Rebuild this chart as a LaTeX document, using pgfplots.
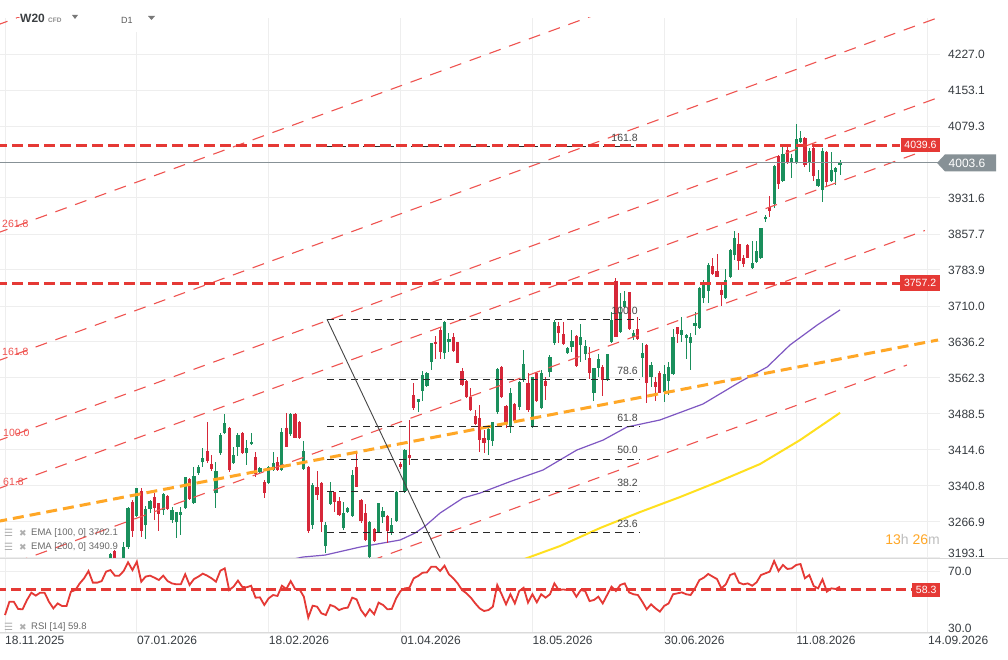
\documentclass[border=0pt]{standalone}
\usepackage{fontspec}
\setmainfont{Liberation Sans}
\newfontfamily\dejavu{DejaVu Sans}
\usepackage{pgfplots}
\usepackage{pgfplotstable}
\pgfplotsset{compat=1.18}

\definecolor{cgreen}{RGB}{26,143,92}
\definecolor{cred}{RGB}{214,39,57}
\definecolor{lred}{RGB}{229,57,53}
\definecolor{tred}{RGB}{239,83,80}
\definecolor{corange}{RGB}{255,167,38}
\definecolor{cpurple}{RGB}{126,87,194}
\definecolor{cyellow}{RGB}{255,224,30}
\definecolor{cgrid}{RGB}{238,238,238}
\definecolor{cline}{RGB}{135,145,150}
\definecolor{ctick}{RGB}{55,60,65}
\definecolor{cfib}{RGB}{40,40,40}
\definecolor{cfibtxt}{RGB}{70,70,70}
\definecolor{clab}{RGB}{105,105,105}
\definecolor{cicon}{RGB}{175,175,175}
\definecolor{csep}{RGB}{218,218,218}
\definecolor{chead}{RGB}{60,64,67}
\definecolor{ccfd}{RGB}{140,140,140}
\definecolor{ctri}{RGB}{120,120,120}
\definecolor{cd1}{RGB}{90,90,90}
\definecolor{chm}{RGB}{190,190,190}

\pgfplotstableread{
i O H L C
24 3193.5 3203.0 3193.5 3201.1
27 3193.5 3226.4 3193.5 3216.2
28 3216.2 3298.2 3210.7 3294.8
30 3279.8 3337.0 3278.0 3335.9
32 3260.6 3299.6 3231.2 3293.5
33 3293.5 3311.9 3284.6 3309.9
36 3291.4 3325.6 3281.1 3324.2
38 3270.9 3298.2 3264.1 3291.4
39 3266.1 3288.0 3233.3 3286.6
40 3281.8 3298.2 3240.1 3287.3
41 3294.8 3359.8 3294.0 3358.4
43 3305.1 3380.3 3303.7 3361.2
44 3368.0 3383.7 3363.2 3379.0
45 3389.2 3417.9 3380.3 3397.4
48 3325.6 3390.6 3294.8 3371.4
49 3407.7 3448.7 3404.2 3445.3
50 3450.1 3487.7 3448.7 3469.2
52 3387.2 3421.3 3385.8 3404.2
53 3421.3 3450.1 3402.2 3445.3
55 3407.7 3435.0 3383.7 3418.0
56 3426.1 3448.7 3424.8 3430.2
58 3370.1 3380.3 3366.7 3376.9
60 3347.5 3381.7 3346.1 3380.3
61 3373.5 3411.1 3372.1 3387.2
63 3373.5 3459.0 3372.1 3450.8
65 3446.7 3489.7 3443.2 3487.7
68 3375.5 3433.0 3373.5 3412.4
70 3260.6 3346.1 3251.7 3342.7
73 3217.5 3267.5 3202.5 3260.6
74 3303.7 3348.9 3301.7 3327.7
77 3253.8 3308.5 3250.4 3284.6
78 3288.0 3298.2 3284.6 3294.8
79 3279.8 3373.5 3279.0 3363.2
83 3194.3 3268.5 3193.5 3267.5
85 3245.6 3306.0 3243.5 3305.1
86 3276.4 3296.9 3264.1 3289.4
88 3245.6 3274.3 3240.0 3260.6
89 3269.5 3330.4 3269.0 3327.7
91 3331.1 3416.6 3327.0 3414.5
94 3513.7 3520.0 3491.8 3519.2
95 3536.3 3576.6 3515.7 3568.4
96 3546.5 3575.0 3545.0 3571.8
97 3595.8 3634.0 3578.7 3633.4
100 3612.9 3679.9 3601.3 3676.5
101 3635.4 3653.9 3616.3 3642.3
110 3435.0 3465.7 3404.2 3456.8
111 3433.6 3472.6 3423.3 3471.2
112 3491.7 3583.0 3489.0 3580.6
115 3462.3 3541.0 3448.6 3530.7
117 3503.4 3556.0 3496.5 3553.3
118 3558.1 3619.6 3555.0 3590.2
120 3461.0 3565.0 3460.0 3563.6
122 3501.3 3578.6 3500.0 3573.1
124 3573.8 3609.4 3563.6 3604.6
125 3634.7 3681.2 3629.9 3677.8
128 3612.8 3626.5 3611.4 3624.4
129 3626.5 3660.7 3616.2 3638.1
131 3629.9 3672.3 3595.7 3647.0
132 3611.4 3640.2 3599.1 3628.5
134 3532.1 3583.0 3515.0 3582.0
135 3583.4 3611.4 3564.9 3600.5
137 3558.1 3612.5 3557.0 3611.4
138 3636.7 3698.3 3636.0 3681.2
140 3657.3 3735.9 3653.8 3698.3
141 3707.2 3741.4 3706.0 3720.9
143 3647.0 3660.7 3640.2 3655.2
145 3604.0 3633.3 3564.9 3614.2
147 3564.9 3595.7 3544.4 3588.8
150 3534.1 3588.8 3513.6 3569.7
151 3556.7 3595.7 3527.3 3584.0
152 3569.7 3662.7 3568.0 3647.0
154 3650.4 3688.0 3636.7 3660.7
155 3644.9 3652.0 3601.2 3650.4
156 3634.7 3653.8 3578.6 3647.0
157 3669.6 3698.3 3650.4 3674.4
158 3665.5 3750.0 3665.0 3746.2
159 3725.6 3763.3 3715.4 3754.4
160 3740.7 3797.5 3715.4 3794.0
164 3727.0 3785.8 3726.0 3763.3
165 3770.1 3826.0 3769.0 3824.8
166 3814.6 3863.8 3804.3 3848.8
170 3787.2 3843.3 3786.0 3797.5
171 3800.9 3843.3 3799.5 3822.8
172 3809.1 3870.5 3806.5 3869.3
173 3887.8 3896.5 3882.5 3891.9
175 3919.2 3999.2 3910.3 3997.2
177 3967.1 4035.5 3965.0 4021.8
179 4004.0 4021.2 3971.9 4012.9
180 4004.0 4083.4 4003.0 4052.6
181 4047.1 4069.0 4043.7 4055.4
183 4006.1 4033.5 3985.6 4028.0
185 3956.2 3989.0 3955.0 3969.8
186 3948.0 4033.5 3924.0 4028.0
188 3967.1 4026.6 3965.0 3989.0
189 3985.6 3995.0 3958.2 3992.4
190 3999.2 4009.5 3978.7 4004.0
}\greentab

\pgfplotstableread{
i O H L C
25 3208.0 3210.0 3193.5 3193.5
29 3308.5 3311.9 3235.3 3249.0
31 3330.4 3335.9 3235.3 3249.0
34 3317.4 3325.6 3270.9 3294.8
35 3305.1 3306.5 3249.0 3282.5
37 3320.1 3322.2 3291.4 3292.8
42 3355.0 3356.4 3312.0 3313.3
46 3412.5 3471.3 3387.2 3392.6
47 3385.8 3404.2 3372.1 3375.5
51 3459.0 3461.0 3370.1 3373.5
54 3448.7 3452.1 3406.3 3407.7
57 3399.5 3411.1 3359.8 3365.3
59 3348.2 3353.0 3316.7 3325.6
62 3389.2 3399.5 3372.1 3373.5
64 3460.3 3489.7 3420.0 3421.3
66 3488.4 3489.7 3438.4 3439.8
67 3471.3 3474.7 3436.4 3439.8
69 3380.3 3381.0 3243.5 3249.0
71 3337.9 3371.4 3311.9 3322.2
72 3347.5 3348.0 3247.0 3267.5
75 3327.7 3329.0 3288.0 3308.5
76 3309.9 3318.7 3279.1 3281.1
80 3378.9 3407.7 3338.0 3339.3
81 3311.9 3314.0 3265.4 3269.5
82 3284.6 3303.7 3228.5 3229.8
84 3251.7 3253.8 3226.4 3228.5
87 3279.1 3281.1 3223.0 3249.0
90 3385.8 3390.6 3375.5 3380.3
92 3404.2 3476.1 3383.7 3398.8
93 3527.4 3551.3 3496.6 3501.4
98 3635.4 3648.4 3601.3 3631.3
99 3660.7 3666.2 3601.3 3616.3
102 3645.7 3655.3 3616.3 3617.7
103 3635.4 3636.7 3592.4 3593.7
104 3576.6 3582.1 3545.8 3547.9
105 3556.1 3558.0 3522.0 3524.0
106 3524.0 3541.0 3494.6 3496.6
107 3484.3 3496.6 3466.5 3467.9
108 3479.5 3506.9 3411.0 3435.0
109 3438.4 3455.5 3407.6 3428.1
113 3585.4 3586.8 3520.5 3522.5
114 3504.7 3506.0 3458.9 3469.2
116 3508.1 3510.2 3469.0 3474.0
119 3551.2 3571.8 3493.0 3496.5
121 3573.1 3575.0 3513.6 3515.0
123 3556.0 3564.9 3517.0 3546.5
126 3668.9 3677.8 3633.3 3653.9
127 3651.8 3677.8 3629.9 3632.0
130 3649.1 3650.4 3585.4 3586.8
133 3602.5 3625.1 3559.5 3571.8
136 3584.1 3589.0 3525.3 3558.1
139 3761.9 3766.7 3645.6 3647.0
142 3738.0 3739.3 3660.7 3662.0
144 3662.0 3688.0 3640.2 3642.2
146 3629.9 3632.0 3510.2 3551.2
148 3554.6 3564.9 3515.0 3544.4
149 3573.1 3576.6 3530.7 3532.1
153 3666.2 3667.6 3634.7 3651.8
161 3792.0 3809.1 3773.6 3775.6
162 3781.7 3816.0 3768.7 3770.1
163 3742.8 3756.4 3709.9 3732.5
167 3837.1 3859.0 3783.8 3803.0
168 3807.7 3814.6 3790.6 3795.4
169 3835.1 3837.8 3807.7 3809.1
174 3912.4 3935.6 3891.9 3905.5
176 4017.7 4019.0 3950.0 3959.6
178 4030.0 4036.9 4000.6 4004.0
182 4054.0 4057.4 3995.8 3999.2
184 4033.5 4035.5 3967.1 3977.4
187 4026.6 4028.0 3956.2 3965.1
}\redtab

\pgfplotstableread{
i r
0 41.6
1 50.2
2 50.2
3 45.5
4 45.3
5 51.3
6 56.0
7 54.1
8 56.0
9 56.0
10 50.2
11 45.9
12 49.1
13 47.4
14 47.4
15 56.7
16 57.7
17 62.0
18 65.3
19 70.0
20 62.5
21 62.5
22 63.5
23 69.6
24 70.6
25 67.0
26 67.0
27 70.0
28 75.6
29 70.6
30 76.0
31 63.1
32 66.4
33 67.0
34 65.7
35 64.2
36 67.0
37 63.5
38 62.0
39 61.4
40 61.4
41 67.9
42 61.0
43 64.8
44 66.4
45 68.3
46 67.0
47 65.3
48 63.1
49 70.2
50 71.7
51 57.7
52 59.9
53 63.8
54 59.7
55 59.5
56 60.5
57 52.8
58 53.0
59 48.1
60 52.4
61 54.5
62 53.9
63 60.5
64 58.4
65 63.5
66 58.4
67 58.2
68 53.4
69 39.9
70 47.6
71 47.0
72 42.7
73 41.6
74 48.1
75 47.0
76 44.8
77 45.9
78 46.4
79 52.8
80 51.7
81 44.8
82 41.0
83 45.3
84 42.1
85 49.6
86 48.1
87 45.3
88 45.5
89 52.4
90 57.1
91 58.8
92 59.2
93 65.3
94 66.8
95 68.9
96 69.1
97 72.8
98 72.8
99 70.0
100 73.4
101 67.9
102 65.3
103 62.0
104 57.7
105 55.6
106 52.8
107 49.1
108 45.9
109 44.2
110 44.8
111 47.0
112 61.0
113 55.0
114 48.5
115 55.0
116 49.1
117 57.1
118 59.2
119 49.6
120 55.0
121 49.8
122 55.0
123 52.8
124 55.0
125 62.0
126 57.7
127 58.1
128 57.7
129 58.1
130 53.4
131 57.7
132 57.1
133 50.6
134 51.3
135 53.4
136 49.1
137 54.5
138 59.9
139 57.1
140 61.0
141 62.0
142 56.2
143 55.0
144 54.5
145 50.2
146 45.3
147 48.5
148 45.9
149 43.8
150 47.5
151 49.1
152 55.0
153 55.6
154 56.2
155 55.0
156 54.5
157 58.8
158 64.2
159 65.7
160 68.1
161 66.4
162 64.8
163 58.8
164 61.4
165 67.4
166 68.5
167 62.5
168 61.4
169 62.0
170 60.5
171 62.7
172 67.4
173 68.5
174 69.6
175 76.5
176 70.0
177 73.9
178 71.3
179 71.7
180 73.9
181 74.5
182 65.3
183 67.4
184 60.3
185 58.8
186 64.6
187 56.7
188 58.8
189 58.4
190 59.9
}\rsitab

\begin{document}
\begin{tikzpicture}[x=1pt,y=1pt]
\useasboundingbox (0,0) rectangle (1008,659);
\fill[white] (0,0) rectangle (1008,659);

% ---------------- main price panel ----------------
\begin{axis}[
  at={(0pt,101pt)}, anchor=south west, scale only axis,
  width=940pt, height=540pt,
  xmin=-1.1377, xmax=212.74, ymin=3193.0, ymax=4300.9,
  axis line style={draw=none}, tick style={draw=none},
  xtick={0,30,60,90,120,150,180,210}, xticklabels={},
  xmajorgrids, ymajorgrids,
  major grid style={draw=cgrid, line width=1pt},
  ytick={3266.9,3340.8,3414.6,3488.5,3562.3,3636.2,3710.0,3783.9,3857.7,3931.6,4079.3,4153.1,4227.0},
  yticklabels={3266.9,3340.8,3414.6,3488.5,3562.3,3636.2,3710.0,3783.9,3857.7,3931.6,4079.3,4153.1,4227.0},
  yticklabel pos=right,
  yticklabel style={anchor=west, inner sep=0pt, xshift=8pt, font=\fontsize{12}{14}\selectfont, text=ctick},
  extra y ticks={3193.1}, extra y tick labels={3193.1},
  extra y tick style={yticklabel style={yshift=5pt}},
  clip mode=individual,
  candle/.style={forget plot, only marks, mark=*, mark size=0pt, mark options={draw=none, fill=none}},
]
% EMA lines
\addplot[cpurple, line width=1.2pt, forget plot] coordinates {
(60,3180) (67.8,3195) (72.8,3199) (80.8,3215.5) (89.9,3229.9) (93.3,3244.2) (95.6,3258.6) (99,3285.3) (104.2,3316.0) (108.1,3326.3) (115,3350) (122.4,3373.5) (130.1,3414.5) (136.1,3435.0) (141.5,3461.7) (149,3476.1) (158.8,3508.9) (167.2,3554.1) (173.4,3584.8) (178.6,3630.0) (184.8,3671.0) (190,3702.1)};
\addplot[cyellow, line width=2pt, forget plot] coordinates {
(115,3180) (118.8,3193) (126.3,3217.6) (135.4,3254.5) (144.5,3287.3) (153.6,3318.1) (162.7,3351.0) (171.8,3385.8) (180.9,3435.0) (190,3490.9)};

% candles: wicks and bodies
\addplot[candle, error bars/.cd, y dir=both, y explicit, error mark=none,
  error bar style={line width=1pt, draw=cgreen, solid}]
  table[x=i, y=O, y error plus expr=\thisrow{H}-\thisrow{O}, y error minus expr=\thisrow{O}-\thisrow{L}] {\greentab};
\addplot[candle, error bars/.cd, y dir=both, y explicit, error mark=none,
  error bar style={line width=3.2pt, draw=cgreen, solid}]
  table[x=i, y=O, y error plus expr=\thisrow{C}-\thisrow{O}, y error minus expr=0] {\greentab};
\addplot[candle, error bars/.cd, y dir=both, y explicit, error mark=none,
  error bar style={line width=1pt, draw=cred, solid}]
  table[x=i, y=O, y error plus expr=\thisrow{H}-\thisrow{O}, y error minus expr=\thisrow{O}-\thisrow{L}] {\redtab};
\addplot[candle, error bars/.cd, y dir=both, y explicit, error mark=none,
  error bar style={line width=3.2pt, draw=cred, solid}]
  table[x=i, y=O, y error plus expr=0, y error minus expr=\thisrow{O}-\thisrow{C}] {\redtab};

% Fibonacci channel (thin red dashed)
\pgfplotsset{tredl/.style={tred, line width=1.1pt, dash pattern=on 12pt off 9pt, forget plot}}
\addplot[tredl] coordinates {(-2,4285.7) (214,4996.6)};
\addplot[tredl] coordinates {(-2,3858.9) (214,4569.8)};
\addplot[tredl] coordinates {(-2,3596.3) (214,4307.2)};
\addplot[tredl] coordinates {(-2,3432.2) (212.74,4138.9)};
\addplot[tredl] coordinates {(-2,3333.7) (207.5,4023.2)};
\addplot[tredl] coordinates {(-2,3169.5) (209.3,3864.9)};
\addplot[tredl] coordinates {(-2,2906.9) (205.2,3588.8)};
% orange trend line
\addplot[corange, line width=3pt, dash pattern=on 11pt off 6pt, forget plot] coordinates {(-2,3267.4) (212.3,3640.3)};

% Fibonacci retracement (black)
\pgfplotsset{fibl/.style={cfib, line width=0.9pt, dash pattern=on 7pt off 5pt, forget plot}}
\addplot[fibl] coordinates {(73.27,4038.0) (144.5,4038.0)};
\addplot[fibl] coordinates {(73.27,3682.7) (144.5,3682.7)};
\addplot[fibl] coordinates {(73.27,3560.1) (144.5,3560.1)};
\addplot[fibl] coordinates {(73.27,3463.8) (144.5,3463.8)};
\addplot[fibl] coordinates {(73.27,3396.2) (144.5,3396.2)};
\addplot[fibl] coordinates {(73.27,3328.6) (144.5,3328.6)};
\addplot[fibl] coordinates {(73.27,3244.9) (144.5,3244.9)};
\addplot[cfibtxt, line width=0.9pt, forget plot] coordinates {(73.27,3682.7) (103.5,3106.7)};

% current price and horizontal levels
\addplot[cline, line width=1pt, forget plot] coordinates {(-2,4003.6) (212.74,4003.6)};
\addplot[lred, line width=3pt, dash pattern=on 11pt off 5pt, forget plot] coordinates {(-2,4039.6) (203.6,4039.6)};
\addplot[lred, line width=3pt, dash pattern=on 11pt off 5pt, forget plot] coordinates {(-2,3757.2) (203.6,3757.2)};

% labels
\node[fill=lred, text=white, inner sep=0pt, minimum width=39pt, minimum height=14pt, font=\fontsize{10.5}{12}\selectfont] at (axis cs:208.3,4039.6) {4039.6};
\node[fill=lred, text=white, inner sep=0pt, minimum width=40pt, minimum height=15pt, font=\fontsize{10.5}{12}\selectfont] at (axis cs:208.2,3757.2) {3757.2};
\node[anchor=base east, inner sep=0pt, yshift=5pt, text=cfibtxt, font=\fontsize{10.5}{12}\selectfont] at (axis cs:144.0,4038.0) {161.8};
\node[anchor=base east, inner sep=0pt, yshift=5pt, text=cfibtxt, font=\fontsize{10.5}{12}\selectfont] at (axis cs:144.0,3682.7) {100.0};
\node[anchor=base east, inner sep=0pt, yshift=5pt, text=cfibtxt, font=\fontsize{10.5}{12}\selectfont] at (axis cs:144.0,3560.1) {78.6};
\node[anchor=base east, inner sep=0pt, yshift=5pt, text=cfibtxt, font=\fontsize{10.5}{12}\selectfont] at (axis cs:144.0,3463.8) {61.8};
\node[anchor=base east, inner sep=0pt, yshift=5pt, text=cfibtxt, font=\fontsize{10.5}{12}\selectfont] at (axis cs:144.0,3396.2) {50.0};
\node[anchor=base east, inner sep=0pt, yshift=5pt, text=cfibtxt, font=\fontsize{10.5}{12}\selectfont] at (axis cs:144.0,3328.6) {38.2};
\node[anchor=base east, inner sep=0pt, yshift=5pt, text=cfibtxt, font=\fontsize{10.5}{12}\selectfont] at (axis cs:144.0,3244.9) {23.6};
\coordinate (cp) at (axis cs:212.74,4003.6);
\end{axis}

% ---------------- RSI panel ----------------
\begin{axis}[
  at={(0pt,26pt)}, anchor=south west, scale only axis,
  width=940pt, height=75pt,
  xmin=-1.1377, xmax=212.74, ymin=30, ymax=78.39,
  axis line style={draw=none}, tick style={draw=none},
  xtick={0,30,60,90,120,150,180,210},
  xticklabels={18.11.2025,07.01.2026,18.02.2026,01.04.2026,18.05.2026,30.06.2026,11.08.2026,14.09.2026},
  xticklabel style={anchor=north west, inner sep=0pt, yshift=-3pt, font=\fontsize{12}{14}\selectfont, text=ctick},
  xmajorgrids, ymajorgrids,
  major grid style={draw=cgrid, line width=1pt},
  ytick={70}, yticklabels={70.0},
  yticklabel pos=right,
  yticklabel style={anchor=west, inner sep=0pt, xshift=8pt, font=\fontsize{12}{14}\selectfont, text=ctick},
  extra y ticks={30}, extra y tick labels={30.0},
  extra y tick style={yticklabel style={yshift=5pt}},
  clip mode=individual,
]
\addplot[lred, line width=3pt, dash pattern=on 10pt off 5pt, forget plot] coordinates {(-2,58.3) (206.4,58.3)};
\addplot[lred, line width=1.8pt, forget plot] table[x=i, y=r] {\rsitab};
\node[fill=lred, text=white, inner sep=0pt, minimum width=28pt, minimum height=14pt, font=\fontsize{10.5}{12}\selectfont, yshift=-1pt] at (axis cs:209.6,58.3) {58.3};
\end{axis}

% separators
\draw[csep, line width=1pt] (0,101) -- (1008,101);
\draw[csep, line width=1pt] (0,27) -- (940,27);

% current price tag
\fill[cline] ([xshift=-3pt]cp) -- ([xshift=5pt,yshift=8.5pt]cp) -- ([xshift=56pt,yshift=8.5pt]cp) -- ([xshift=56pt,yshift=-8.5pt]cp) -- ([xshift=5pt,yshift=-8.5pt]cp) -- cycle;
\node[text=white, inner sep=0pt, font=\fontsize{12}{14}\selectfont] at ([xshift=27pt]cp) {4003.6};

% header
\fill[white] (17,627) rectangle (165,641);
\node[anchor=base west, inner sep=0pt, text=chead, font=\bfseries\fontsize{12}{14}\selectfont] at (20,636) {W20};
\node[anchor=base west, inner sep=0pt, text=ccfd, font=\bfseries\fontsize{6.5}{8}\selectfont] at (48,636) {CFD};
\fill[ctri] (72,644) -- (78,644) -- (75,640) -- cycle;
\node[anchor=base west, inner sep=0pt, text=cd1, font=\fontsize{9}{11}\selectfont] at (121,635) {D1};
\fill[ctri] (148,643) -- (155,643) -- (151.5,639) -- cycle;

% left channel labels
\node[anchor=base west, inner sep=0pt, text=tred, font=\fontsize{10.5}{12}\selectfont] at (2,431) {261.8};
\node[anchor=base west, inner sep=0pt, text=tred, font=\fontsize{10.5}{12}\selectfont] at (2,303) {161.8};
\node[anchor=base west, inner sep=0pt, text=tred, font=\fontsize{10.5}{12}\selectfont] at (3,223) {100.0};
\node[anchor=base west, inner sep=0pt, text=tred, font=\fontsize{10.5}{12}\selectfont] at (3,174) {61.8};

% indicator labels
\node[anchor=west, inner sep=0pt, text=cicon, font=\dejavu\fontsize{10}{12}\selectfont] at (4,126) {☰};
\node[anchor=west, inner sep=0pt, text=cicon, font=\dejavu\fontsize{9}{11}\selectfont] at (19,126) {✖};
\node[anchor=west, inner sep=0pt, text=clab, font=\fontsize{9.5}{11}\selectfont] at (31,126) {EMA [100, 0] 3702.1};
\node[anchor=west, inner sep=0pt, text=cicon, font=\dejavu\fontsize{10}{12}\selectfont] at (4,112) {☰};
\node[anchor=west, inner sep=0pt, text=cicon, font=\dejavu\fontsize{9}{11}\selectfont] at (19,112) {✖};
\node[anchor=west, inner sep=0pt, text=clab, font=\fontsize{9.5}{11}\selectfont] at (31,112) {EMA [200, 0] 3490.9};
\node[anchor=west, inner sep=0pt, text=cicon, font=\dejavu\fontsize{10}{12}\selectfont] at (4,32) {☰};
\node[anchor=west, inner sep=0pt, text=cicon, font=\dejavu\fontsize{9}{11}\selectfont] at (19,32) {✖};
\node[anchor=west, inner sep=0pt, text=clab, font=\fontsize{9.5}{11}\selectfont] at (31,32) {RSI [14] 59.8};

% countdown
\node[anchor=east, inner sep=0pt, font=\fontsize{14}{16}\selectfont] at (940,120) {\textcolor{corange}{13}\textcolor{chm}{h} \textcolor{corange}{26}\textcolor{chm}{m}};
\end{tikzpicture}
\end{document}
